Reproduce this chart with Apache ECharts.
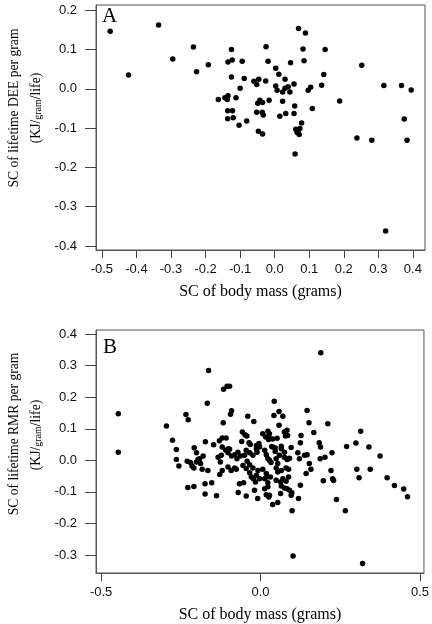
<!DOCTYPE html>
<html><head><meta charset="utf-8">
<script src="https://cdn.jsdelivr.net/npm/echarts@6/dist/echarts.min.js"></script>
<style>html,body{margin:0;padding:0;background:#fff}#c{width:432px;height:624px}</style>
</head><body><div id="c"></div>
<script>
// Panel A: SC of body mass vs SC of lifetime DEE per gram
const aMass=[-0.476,-0.423,-0.336,-0.295,-0.235,-0.226,-0.192,-0.163,-0.144,-0.137,
-0.135,-0.112,-0.135,-0.123,-0.125,-0.125,-0.136,-0.122,-0.136,-0.120,
-0.103,-0.081,-0.100,-0.094,-0.088,-0.060,-0.052,-0.046,-0.026,-0.025,
-0.019,-0.049,-0.043,-0.035,-0.016,-0.052,-0.036,-0.033,-0.047,-0.035,
0.003,0.012,0.003,0.007,0.023,0.030,0.030,0.039,0.044,0.056,
0.023,0.015,0.032,0.046,0.058,0.056,0.069,0.089,0.082,0.085,
0.078,0.061,0.068,0.073,0.065,0.071,0.059,0.097,0.104,0.109,
0.136,0.142,0.146,0.188,0.252,0.238,0.281,0.316,0.321,0.367,
0.395,0.375,0.383];
const aDEE=[0.146,0.035,0.162,0.076,0.106,0.043,0.061,-0.027,-0.023,-0.027,
-0.018,-0.023,0.068,0.073,0.100,0.030,-0.056,-0.056,-0.076,-0.074,
-0.093,-0.082,0.001,0.070,0.026,0.019,0.011,0.024,0.020,0.107,
0.070,-0.037,-0.029,-0.035,-0.029,-0.060,-0.060,-0.067,-0.108,-0.115,
0.052,0.037,0.007,-0.004,-0.008,0.001,0.024,0.005,-0.008,0.012,
-0.032,-0.070,-0.063,0.066,-0.044,-0.063,0.153,0.142,0.101,0.071,
-0.087,-0.103,-0.105,-0.101,-0.111,-0.116,-0.166,-0.004,0.004,-0.050,
0.009,0.036,0.100,-0.031,0.060,-0.125,-0.131,0.008,-0.362,0.008,
-0.003,-0.077,-0.131];
// Panel B: SC of body mass vs SC of lifetime RMR per gram
const bMass=[-0.446,-0.446,-0.295,-0.276,-0.264,-0.264,-0.256,-0.234,-0.227,-0.208,
-0.173,-0.167,-0.163,-0.147,-0.129,-0.120,-0.108,-0.117,-0.120,-0.101,
-0.116,-0.105,-0.097,-0.091,-0.094,-0.057,-0.049,-0.043,-0.059,-0.036,
-0.032,-0.013,-0.005,-0.040,-0.021,0.007,0.016,0.023,0.026,0.043,
0.058,0.042,0.070,0.058,0.146,0.152,0.211,0.167,0.314,0.028,
0.025,0.038,0.052,0.075,0.083,0.078,0.085,0.127,0.125,0.184,
0.188,0.270,0.299,0.340,0.035,0.046,0.065,0.096,0.189,-0.230,
-0.220,-0.215,-0.209,-0.201,-0.196,-0.188,-0.201,-0.191,-0.180,-0.183,
-0.165,-0.228,-0.209,-0.174,-0.153,-0.174,-0.138,-0.133,-0.123,-0.109,
-0.102,-0.091,-0.097,-0.126,-0.120,-0.128,-0.102,-0.092,-0.081,-0.076,
-0.074,-0.063,-0.050,-0.042,-0.034,-0.024,-0.055,-0.045,-0.034,-0.029,
-0.022,-0.013,-0.003,-0.008,-0.016,0.007,0.018,0.013,-0.066,-0.053,
-0.070,-0.045,-0.019,-0.009,0.013,0.018,0.023,0.026,0.023,0.020,
0.023,0.013,-0.003,-0.011,-0.045,-0.034,-0.024,-0.013,-0.081,-0.071,
0.038,0.046,0.059,0.065,0.075,0.088,0.028,0.018,0.033,0.049,
0.075,0.083,0.091,0.117,0.122,0.138,0.146,0.153,0.158,0.143,
0.187,0.202,0.224,0.221,0.197,0.226,0.229,0.302,0.344,0.309,
0.375,0.238,0.266,0.099,0.119,0.125,0.096,0.091,0.038,0.054,
0.063,0.031,0.049,0.063,0.070,0.080,0.088,0.065,0.075,0.083,
0.054,0.065,0.080,0.088,0.049,0.054,0.102,0.320,0.397,0.420,
0.449,0.461,0.098,0.028];
const bRMR=[0.148,0.026,0.109,0.064,0.034,0.003,-0.018,0.145,0.129,0.040,
0.059,0.181,0.285,0.049,0.062,0.071,0.071,0.119,0.042,0.037,
0.225,0.235,0.235,0.157,0.146,0.090,0.081,0.077,0.060,0.056,
0.050,0.047,0.053,0.140,0.123,0.084,0.074,0.092,0.074,0.187,
0.155,0.142,0.140,0.111,0.158,0.119,0.116,0.088,0.092,0.084,
0.066,0.068,0.070,0.090,0.095,0.077,0.079,0.079,0.056,0.056,
0.042,0.044,0.055,0.042,0.044,0.039,0.045,0.041,0.341,-0.003,
-0.007,-0.018,-0.024,-0.005,0.003,-0.010,0.024,0.005,0.014,-0.028,
-0.032,-0.086,-0.083,-0.074,-0.071,-0.107,-0.112,0.010,0.016,0.032,
0.024,0.014,0.035,-0.005,-0.032,-0.045,-0.021,-0.032,-0.024,-0.028,
0.005,0.014,0.016,-0.003,-0.014,-0.024,-0.016,-0.026,-0.039,-0.053,
-0.058,-0.047,-0.058,-0.032,-0.069,-0.028,-0.042,-0.058,-0.074,-0.071,
-0.102,-0.113,-0.095,-0.121,-0.090,-0.109,-0.084,-0.116,-0.071,-0.053,
0.005,0.032,0.042,0.026,0.032,0.024,0.016,0.037,0.018,0.026,
0.042,0.028,0.016,0.037,0.026,0.005,0.000,0.018,-0.007,0.005,
0.010,0.003,0.007,0.024,0.005,0.016,0.018,-0.010,-0.028,-0.042,
0.005,0.010,0.024,-0.032,-0.065,-0.058,-0.064,-0.028,-0.028,-0.055,
0.014,-0.124,-0.160,-0.160,-0.121,-0.079,-0.111,-0.095,-0.140,-0.134,
-0.105,-0.053,-0.063,-0.069,-0.058,-0.066,-0.053,-0.081,-0.088,-0.090,
-0.037,-0.032,-0.024,-0.028,-0.024,-0.010,-0.303,-0.327,-0.055,-0.080,
-0.091,-0.115,-0.103,-0.111];
// Tick values
const aXTicks=[-0.5,-0.4,-0.3,-0.2,-0.1,0.0,0.1,0.2,0.3,0.4];
const aYTicks=[-0.4,-0.3,-0.2,-0.1,0.0,0.1,0.2];
const bXTicks=[-0.5,0.0,0.5];
const bYTicks=[-0.3,-0.2,-0.1,0.0,0.1,0.2,0.3,0.4];
// Axis titles
const xTitle='SC of body mass (grams)';
const aYTitle='SC of lifetime DEE per gram';
const bYTitle='SC of lifetime RMR per gram';
const unitTitle='(KJ/{s|gram}/life)';

const zip=(x,y)=>x.map((v,i)=>[v,y[i]]);
const SANS='"Liberation Sans", Arial, Helvetica, sans-serif';
const SERIF='"Liberation Serif", "Times New Roman", serif';
const TICK='#444';

function xAx(gi,min,max,ticks){
  return {type:'value',gridIndex:gi,min:min,max:max,
    axisLine:{show:true,onZero:false,lineStyle:{color:'#555',width:1}},splitLine:{show:false},
    axisTick:{show:true,length:8,customValues:ticks,lineStyle:{color:TICK,width:1}},
    axisLabel:{customValues:ticks,formatter:v=>v.toFixed(1),fontFamily:SANS,fontSize:13,color:'#111',margin:13},
    name:xTitle,nameLocation:'middle',nameGap:34,
    nameTextStyle:{fontFamily:SERIF,fontSize:16,color:'#000'}};
}
function yAx(gi,min,max,ticks){
  return {type:'value',gridIndex:gi,min:min,max:max,
    axisLine:{show:true,onZero:false,lineStyle:{color:'#555',width:1}},splitLine:{show:false},
    axisTick:{show:true,length:11,customValues:ticks,lineStyle:{color:TICK,width:1}},
    axisLabel:{customValues:ticks,formatter:v=>v.toFixed(1),fontFamily:SANS,fontSize:13,color:'#111',margin:19}};
}
function vtext(x,y,txt){
  return {type:'text',x:x,y:y,rotation:Math.PI/2,
    style:{text:txt,fontFamily:SERIF,fontSize:13.6,fill:'#000',align:'center',verticalAlign:'middle',
      rich:{s:{fontFamily:SERIF,fontSize:10,fill:'#000',padding:[4,0,0,0]}}}};
}
const chart=echarts.init(document.getElementById('c'));
chart.setOption({
  animation:false,
  backgroundColor:'#fff',
  grid:[
    {left:96,top:5,width:329,height:245,show:true,borderColor:'#555',borderWidth:1},
    {left:96,top:330,width:329,height:243,show:true,borderColor:'#555',borderWidth:1}
  ],
  xAxis:[xAx(0,-0.517,0.435,aXTicks),xAx(1,-0.516,0.5125,bXTicks)],
  yAxis:[yAx(0,-0.41,0.213,aYTicks),yAx(1,-0.357,0.413,bYTicks)],
  series:[
    {type:'scatter',xAxisIndex:0,yAxisIndex:0,data:zip(aMass,aDEE),symbolSize:5.5,itemStyle:{color:'#000',opacity:1}},
    {type:'scatter',xAxisIndex:1,yAxisIndex:1,data:zip(bMass,bRMR),symbolSize:5.5,itemStyle:{color:'#000',opacity:1}}
  ],
  graphic:[
    {type:'text',x:102,y:6,style:{text:'A',fontFamily:SERIF,fontSize:21,fill:'#000'}},
    {type:'text',x:103,y:337,style:{text:'B',fontFamily:SERIF,fontSize:21,fill:'#000'}},
    vtext(14,108,aYTitle),vtext(36,108,unitTitle),
    vtext(14,434,bYTitle),vtext(36,435,unitTitle)
  ]
});
</script></body></html>
